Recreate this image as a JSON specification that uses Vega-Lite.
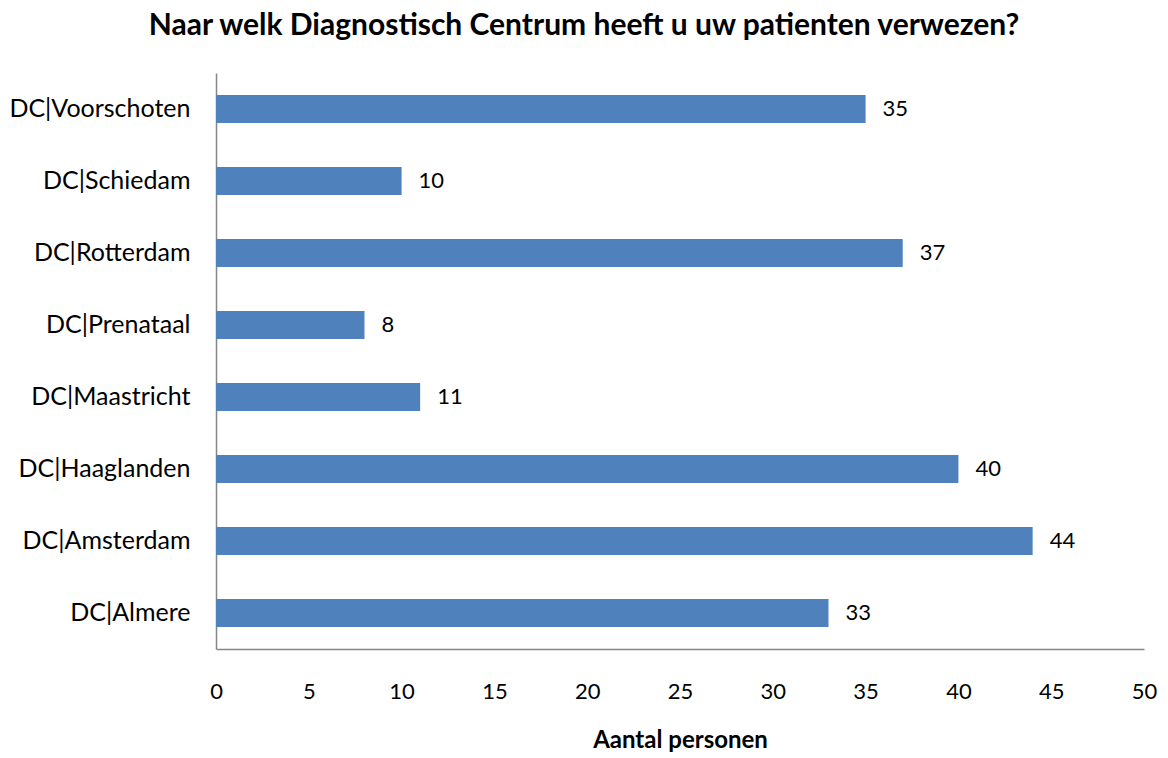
{
  "$schema": "https://vega.github.io/schema/vega-lite/v6.json",
  "width": 928,
  "height": 576,
  "autosize": {"type": "none"},
  "padding": {"left": 216, "top": 73, "right": 24, "bottom": 109},
  "background": "white",
  "title": {
    "text": "Naar welk Diagnostisch Centrum heeft u uw patienten verwezen?",
    "font": "Lato",
    "fontSize": 30,
    "fontWeight": "bold",
    "color": "#000000",
    "anchor": "middle",
    "dx": -96,
    "offset": 32
  },
  "config": {
    "view": {"stroke": null},
    "font": "Lato"
  },
  "data": {
    "values": [
      {"centrum": "DC|Voorschoten", "aantal": 35},
      {"centrum": "DC|Schiedam", "aantal": 10},
      {"centrum": "DC|Rotterdam", "aantal": 37},
      {"centrum": "DC|Prenataal", "aantal": 8},
      {"centrum": "DC|Maastricht", "aantal": 11},
      {"centrum": "DC|Haaglanden", "aantal": 40},
      {"centrum": "DC|Amsterdam", "aantal": 44},
      {"centrum": "DC|Almere", "aantal": 33}
    ]
  },
  "encoding": {
    "y": {
      "field": "centrum",
      "type": "nominal",
      "sort": ["DC|Voorschoten", "DC|Schiedam", "DC|Rotterdam", "DC|Prenataal", "DC|Maastricht", "DC|Haaglanden", "DC|Amsterdam", "DC|Almere"],
      "scale": {"paddingInner": 0.61, "paddingOuter": 0.305},
      "axis": {
        "title": null,
        "ticks": false,
        "domainColor": "#868686",
        "domainWidth": 1.5,
        "labelFont": "Lato",
        "labelFontSize": 25,
        "labelColor": "#000000",
        "labelPadding": 26,
        "labelLimit": 300
      }
    },
    "x": {
      "field": "aantal",
      "type": "quantitative",
      "scale": {"domain": [0, 50], "nice": false},
      "axis": {
        "title": "Aantal personen",
        "titleFont": "Lato",
        "titleFontSize": 24,
        "titleFontWeight": "bold",
        "titleColor": "#000000",
        "titlePadding": 26,
        "values": [0, 5, 10, 15, 20, 25, 30, 35, 40, 45, 50],
        "ticks": false,
        "grid": false,
        "domainColor": "#868686",
        "domainWidth": 1.5,
        "labelFont": "Lato",
        "labelFontSize": 22,
        "labelColor": "#000000",
        "labelPadding": 32,
        "labelFlush": false
      }
    }
  },
  "layer": [
    {"mark": {"type": "bar", "color": "#4F81BD"}},
    {
      "mark": {"type": "text", "align": "left", "dx": 17, "font": "Lato", "fontSize": 22, "color": "#000000"},
      "encoding": {"text": {"field": "aantal", "type": "quantitative"}}
    }
  ]
}
